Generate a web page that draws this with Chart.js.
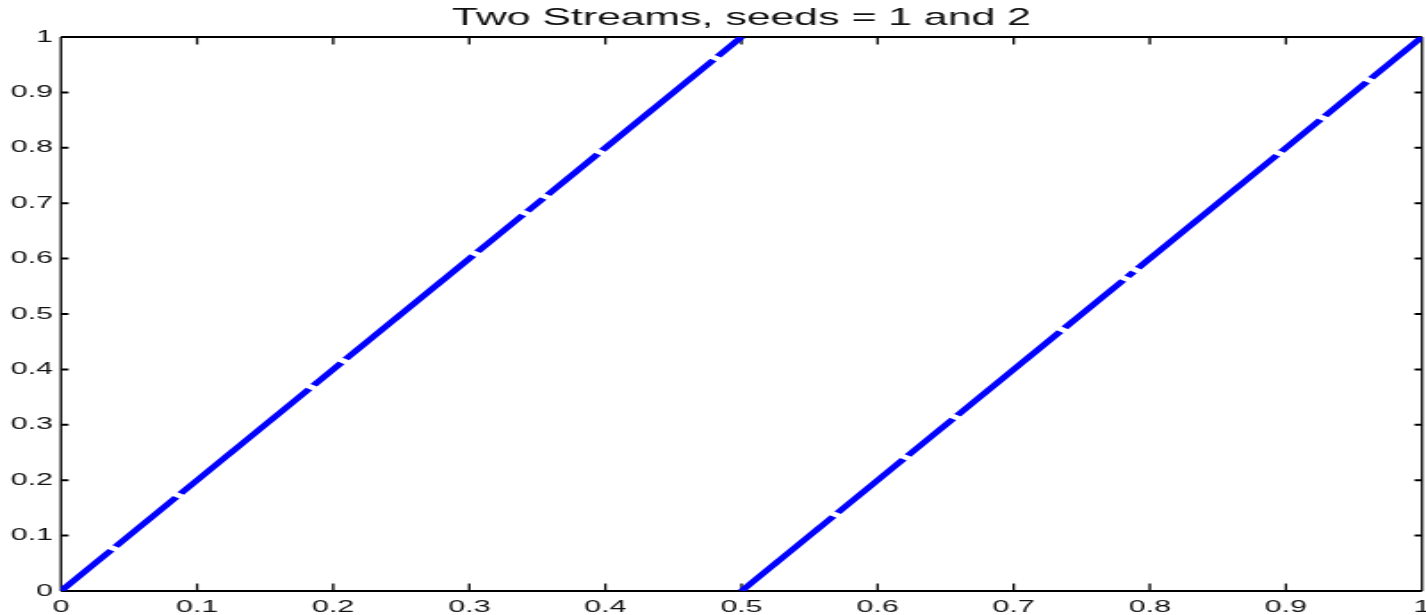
<!DOCTYPE html>
<html>
<head>
<meta charset="utf-8">
<script src="https://cdn.jsdelivr.net/npm/chart.js@4/dist/chart.umd.min.js"></script>
<style>
  html, body { margin: 0; padding: 0; background: #fff; }
  /* figure is laid out at 800px and widened to the window */
  #wrap { width: 800px; height: 615px; transform: scaleX(1.7825); transform-origin: 0 0; }
</style>
</head>
<body>
<div id="wrap"><canvas id="c"></canvas></div>
<script>
// Pairs from the two streams; null marks a break in the trace
const stream1X = [0, 0.0368, null, 0.0402, 0.0846, null, 0.0880, 0.1823, null, 0.1857, 0.2059, null, 0.2093, 0.3027, null, 0.3061, 0.3393, null, 0.3427, 0.3543, null, 0.3577, 0.3943, null, 0.3977, 0.4793, null, 0.4827, 0.5];
const stream1Y = [0, 0.0736, null, 0.0804, 0.1692, null, 0.1760, 0.3646, null, 0.3714, 0.4118, null, 0.4186, 0.6054, null, 0.6122, 0.6786, null, 0.6854, 0.7086, null, 0.7154, 0.7886, null, 0.7954, 0.9586, null, 0.9654, 1];

const stream2X = [0.5, 0.5673, null, 0.5707, 0.6189, null, 0.6223, 0.6553, null, 0.6587, 0.7341, null, 0.7375, 0.7803, null, 0.7837, 0.7880, null, 0.7914, 0.8933, null, 0.8967, 0.9253, null, 0.9287, 0.9593, null, 0.9627, 1];
const stream2Y = [0, 0.1346, null, 0.1414, 0.2378, null, 0.2446, 0.3106, null, 0.3174, 0.4682, null, 0.4750, 0.5606, null, 0.5674, 0.5760, null, 0.5828, 0.7866, null, 0.7934, 0.8506, null, 0.8574, 0.9186, null, 0.9254, 1];

const xTickLabels = ['0', '0.1', '0.2', '0.3', '0.4', '0.5', '0.6', '0.7', '0.8', '0.9', '1'];
const yTickLabels = ['0', '0.1', '0.2', '0.3', '0.4', '0.5', '0.6', '0.7', '0.8', '0.9', '1'];

const titleText = 'Two Streams, seeds = 1 and 2';

function toPoints(xs, ys) {
  return xs.map((x, i) => ({ x: x, y: ys[i] }));
}

// Boxed axes with inward tick marks on all four sides
const boxAxes = {
  id: 'boxAxes',
  beforeDatasetsDraw(chart) {
    const { ctx, chartArea: a, scales } = chart;
    const len = 7.5;
    ctx.save();
    ctx.strokeStyle = '#000';
    // horizontal edges
    ctx.lineWidth = 2;
    ctx.beginPath();
    ctx.moveTo(a.left, a.top); ctx.lineTo(a.right, a.top);
    ctx.moveTo(a.left, a.bottom); ctx.lineTo(a.right, a.bottom);
    scales.y.ticks.forEach((t) => {
      const py = scales.y.getPixelForValue(t.value);
      ctx.moveTo(a.left, py); ctx.lineTo(a.left + len / 1.78, py);
      ctx.moveTo(a.right, py); ctx.lineTo(a.right - len / 1.78, py);
    });
    ctx.stroke();
    // vertical edges
    ctx.lineWidth = 1.3;
    ctx.beginPath();
    ctx.moveTo(a.left, a.top); ctx.lineTo(a.left, a.bottom);
    ctx.moveTo(a.right, a.top); ctx.lineTo(a.right, a.bottom);
    scales.x.ticks.forEach((t) => {
      const px = scales.x.getPixelForValue(t.value);
      ctx.moveTo(px, a.bottom); ctx.lineTo(px, a.bottom - len);
      ctx.moveTo(px, a.top); ctx.lineTo(px, a.top + len);
    });
    ctx.stroke();
    ctx.restore();
  }
};

const tickFont = { family: '"Liberation Sans", Arial, sans-serif', size: 17 };

new Chart(document.getElementById('c'), {
  type: 'scatter',
  data: {
    datasets: [
      { data: toPoints(stream1X, stream1Y), showLine: true, spanGaps: false, borderColor: '#0000ff', borderWidth: 4.5, pointRadius: 0 },
      { data: toPoints(stream2X, stream2Y), showLine: true, spanGaps: false, borderColor: '#0000ff', borderWidth: 4.5, pointRadius: 0 }
    ]
  },
  options: {
    responsive: true,
    maintainAspectRatio: false,
    animation: false,
    devicePixelRatio: 1,
    layout: { padding: { left: 0, right: 0.8, top: 0, bottom: 0 } },
    plugins: {
      legend: { display: false },
      tooltip: { enabled: false },
      title: {
        display: true,
        text: titleText,
        fullSize: false,
        color: '#111',
        font: { family: '"Liberation Sans", Arial, sans-serif', size: 24, weight: 'normal', lineHeight: 1.2 },
        padding: { top: 4, bottom: 4.2 }
      }
    },
    scales: {
      x: {
        type: 'linear',
        min: 0, max: 1,
        grid: { display: false, drawTicks: false },
        border: { display: false },
        ticks: {
          stepSize: 0.1,
          autoSkip: false,
          maxRotation: 0,
          padding: 6.5,
          color: '#111',
          font: tickFont,
          callback: (v, i) => xTickLabels[i]
        },
        afterFit(s) { s.height = 24; s.paddingLeft = 0; s.paddingRight = 0; }
      },
      y: {
        type: 'linear',
        min: 0, max: 1,
        grid: { display: false, drawTicks: false },
        border: { display: false },
        ticks: {
          stepSize: 0.1,
          autoSkip: false,
          padding: 4.5,
          color: '#111',
          font: tickFont,
          callback: (v, i) => yTickLabels[i]
        },
        afterFit(s) { s.width = 34.2; s.paddingTop = 0; s.paddingBottom = 0; }
      }
    }
  },
  plugins: [boxAxes]
});
</script>
</body>
</html>
